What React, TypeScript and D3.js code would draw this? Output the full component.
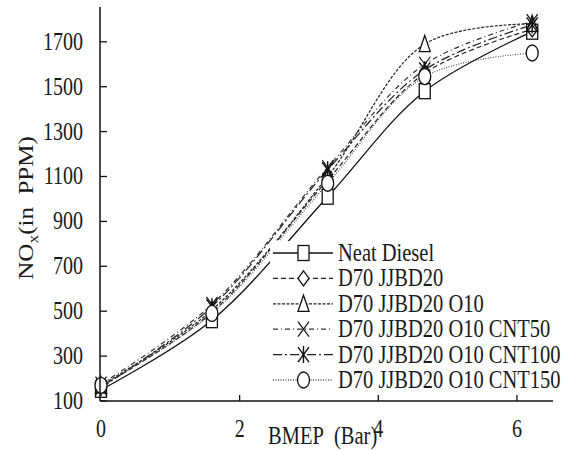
import React from "react";
import * as d3 from "d3";

const xValues = [0, 1.6, 3.27, 4.67, 6.22];
const seriesNames = [
  "Neat Diesel",
  "D70 JJBD20",
  "D70 JJBD20 O10",
  "D70 JJBD20 O10 CNT50",
  "D70 JJBD20 O10 CNT100",
  "D70 JJBD20 O10 CNT150",
];
const neatDiesel = [150, 460, 1010, 1480, 1745];
const jjbd20 = [165, 495, 1085, 1560, 1755];
const o10 = [170, 505, 1100, 1690, 1780];
const cnt50 = [175, 530, 1140, 1600, 1790];
const cnt100 = [160, 520, 1130, 1575, 1775];
const cnt150 = [170, 490, 1070, 1545, 1650];
const yTicks = [100, 300, 500, 700, 900, 1100, 1300, 1500, 1700];
const xTicks = [0, 2, 4, 6];

const seriesValues = [neatDiesel, jjbd20, o10, cnt50, cnt100, cnt150];
const markers = ["square", "diamond", "triangle", "x", "star", "circle"];
const dashes = ["", "5,3", "3,1.5", "5,3,1,3", "9,3,2,3", "1,1.5"];
const strokes = ["#111", "#222", "#222", "#333", "#222", "#555"];

const FONT = "'Liberation Serif', 'Times New Roman', serif";
const SY = 1.25;

function Marker({ type, cx, cy }: { type: string; cx: number; cy: number }) {
  const w = 5.5;
  const h = 7.5;
  const common = { fill: "white", stroke: "#111", strokeWidth: 1.3 } as any;
  switch (type) {
    case "square":
      return <rect x={cx - w} y={cy - h} width={2 * w} height={2 * h} {...common} />;
    case "diamond":
      return (
        <path d={`M${cx},${cy - h}L${cx + w},${cy}L${cx},${cy + h}L${cx - w},${cy}Z`} {...common} />
      );
    case "triangle":
      return (
        <path d={`M${cx},${cy - h - 1}L${cx + w},${cy + h}L${cx - w},${cy + h}Z`} {...common} />
      );
    case "x":
      return (
        <path
          d={`M${cx - w},${cy - h}L${cx + w},${cy + h}M${cx + w},${cy - h}L${cx - w},${cy + h}`}
          fill="none"
          stroke="#111"
          strokeWidth={1.2}
        />
      );
    case "star":
      return (
        <path
          d={`M${cx - w},${cy - h}L${cx + w},${cy + h}M${cx + w},${cy - h}L${cx - w},${cy + h}M${cx},${cy - h - 1}L${cx},${cy + h + 1}`}
          fill="none"
          stroke="#111"
          strokeWidth={1.4}
        />
      );
    default:
      return <ellipse cx={cx} cy={cy} rx={w + 0.5} ry={h + 0.5} {...common} />;
  }
}

function SText({ x, y, size, anchor, children }: any) {
  return (
    <text
      transform={`translate(${x},${y}) scale(1,${SY})`}
      fontFamily={FONT}
      fontSize={size}
      textAnchor={anchor || "start"}
      fill="#1a1a1a"
    >
      {children}
    </text>
  );
}

export default function App() {
  const x = d3.scaleLinear().domain([0, 6.52]).range([101, 553]);
  const y = d3.scaleLinear().domain([100, 1855]).range([401, 7]);
  const line = d3
    .line<number>()
    .x((_, i) => x(xValues[i]))
    .y((d) => y(d))
    .curve(d3.curveCatmullRom.alpha(0.5));

  const legendX0 = 273;
  const legendX1 = 333;
  const legendTextX = 338;
  const legendY0 = 253;
  const legendDy = 25.4;

  return (
    <svg
      width={574}
      height={450}
      style={{ position: "absolute", left: 0, top: 0, background: "white" }}
    >
      <rect x={0} y={0} width={574} height={450} fill="white" />
      {seriesValues.map((vals, si) => (
        <path
          key={"l" + si}
          d={line(vals) || ""}
          fill="none"
          stroke={strokes[si]}
          strokeWidth={si === 0 ? 1.3 : 1.2}
          strokeDasharray={dashes[si] || undefined}
        />
      ))}
      {seriesValues.map((vals, si) =>
        vals.map((v, i) => (
          <Marker key={`m${si}-${i}`} type={markers[si]} cx={x(xValues[i])} cy={y(v)} />
        ))
      )}
      <line x1={100} x2={100} y1={7} y2={401} stroke="#111" strokeWidth={1.5} />
      <line x1={100} x2={553} y1={401} y2={401} stroke="#111" strokeWidth={1.5} />
      {yTicks.map((t) => (
        <g key={"yt" + t}>
          <line x1={100} x2={107} y1={y(t)} y2={y(t)} stroke="#111" strokeWidth={1.3} />
          <SText x={83} y={y(t) + 8} size={20} anchor="end">
            {t}
          </SText>
        </g>
      ))}
      {xTicks.map((t) => (
        <g key={"xt" + t}>
          {t !== 0 && (
            <line x1={x(t)} x2={x(t)} y1={401} y2={395} stroke="#111" strokeWidth={1.3} />
          )}
          <SText x={x(t)} y={437} size={20} anchor="middle">
            {t}
          </SText>
        </g>
      ))}
      <rect x={270} y={241} width={304} height={152} fill="white" />
      {seriesNames.map((name, si) => {
        const ly = legendY0 + si * legendDy;
        return (
          <g key={"lg" + si}>
            <line
              x1={legendX0}
              x2={legendX1}
              y1={ly}
              y2={ly}
              stroke={strokes[si]}
              strokeWidth={si === 0 ? 1.5 : 1.3}
              strokeDasharray={dashes[si] || undefined}
            />
            <Marker type={markers[si]} cx={(legendX0 + legendX1) / 2 + 0.5} cy={ly} />
            <SText x={legendTextX} y={ly + 8} size={20.5}>
              {name}
            </SText>
          </g>
        );
      })}
      <SText x={268} y={444} size={20.5}>
        {"BMEP\u00a0\u00a0(Bar)"}
      </SText>
      <text
        transform={`translate(33,208) rotate(-90) scale(1.25,1)`}
        fontFamily={FONT}
        fontSize={20}
        textAnchor="middle"
        fill="#1a1a1a"
      >
        NO
        <tspan fontSize={14} dy={5}>
          x
        </tspan>
        <tspan dy={-5}>{"(in\u00a0\u00a0PPM)"}</tspan>
      </text>
    </svg>
  );
}
